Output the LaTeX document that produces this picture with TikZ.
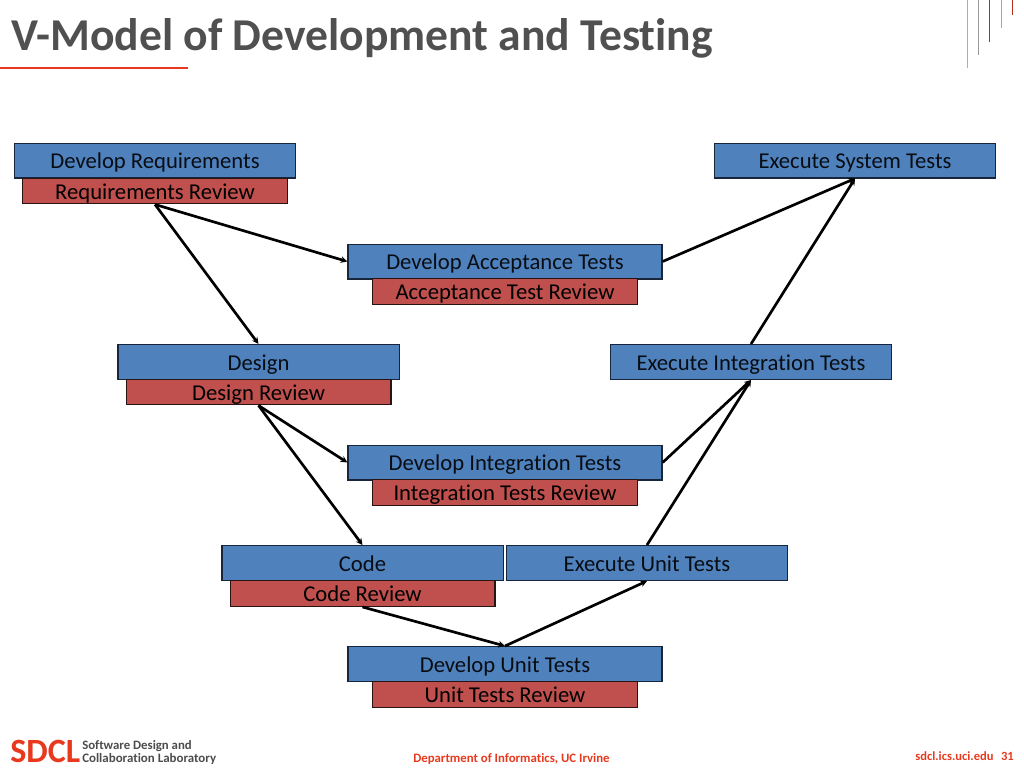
\documentclass[tikz,border=0pt]{standalone}
\usepackage{fontspec}
\setmainfont[RawFeature={-liga;-clig}]{Carlito}
\usetikzlibrary{arrows.meta}
\definecolor{bluefill}{HTML}{4F81BD}
\definecolor{redfill}{HTML}{C0504D}
\definecolor{edgeblue}{HTML}{17263A}
\definecolor{edgered}{HTML}{2A1413}
\definecolor{titlegrey}{HTML}{505050}
\definecolor{brandred}{HTML}{E8391E}
\tikzset{
  x=0.75pt,y=-0.75pt,
  boxbase/.style={draw,line width=1pt,inner sep=0pt,anchor=center,text height=13.3pt,text depth=1pt,font=\fontsize{17}{17}\selectfont},
  bluebox/.style={boxbase,fill=bluefill,draw=edgeblue,text=black!90!bluefill,minimum width=211pt,minimum height=26pt},
  widered/.style={boxbase,fill=redfill,draw=edgered,text=black,minimum width=198.5pt,minimum height=19.2pt},
  link/.style={line width=2pt,black,-{Stealth[length=5pt,width=5pt]}},
  tick/.style={line width=0.75pt},
  foot/.style={inner sep=0pt,text=brandred,font=\fontsize{9.6}{9.6}\selectfont\bfseries},
}
\begin{document}
\begin{tikzpicture}
\useasboundingbox (0,0) rectangle (1024,768);
% title
\node[anchor=base west,inner sep=0pt,text=titlegrey,font=\fontsize{34.2}{34.2}\selectfont\bfseries] (title) at (11,50) {V-Model of Development and Testing};
\draw[brandred,line width=1pt] (0,68) -- (188,68);
% corner ticks
\draw[tick,draw=brandred!55] (967,0) -- (967,68);
\draw[tick,draw=gray!80] (978.5,0) -- (978.5,55);
\draw[tick,draw=brandred!80!black] (989.5,0) -- (989.5,42);
\draw[tick,draw=gray!70] (1001,0) -- (1001,28);
\draw[tick,draw=brandred!80!black] (1012.5,0) -- (1012.5,15);
% boxes
\node[bluebox] (devreq) at (155,160.5) {Develop Requirements};
\node[widered] (reqrev) at (155,191) {Requirements Review};
\node[bluebox] (sys) at (855,160.5) {Execute System Tests};
\node[bluebox,minimum width=235.5pt] (devacc) at (505,261.5) {Develop Acceptance Tests};
\node[widered] (accrev) at (505,291.5) {Acceptance Test Review};
\node[bluebox] (design) at (258.5,362) {Design};
\node[widered] (desrev) at (258.5,392) {Design Review};
\node[bluebox] (intexec) at (751,362) {Execute Integration Tests};
\node[bluebox,minimum width=235.5pt] (devint) at (505,462.5) {Develop Integration Tests};
\node[widered] (intrev) at (505,492.5) {Integration Tests Review};
\node[bluebox] (code) at (362.5,563) {Code};
\node[widered] (coderev) at (362.5,593.5) {Code Review};
\node[bluebox] (unitexec) at (647,563) {Execute Unit Tests};
\node[bluebox,minimum width=235.5pt] (devunit) at (505,664) {Develop Unit Tests};
\node[widered] (unitrev) at (505,694.5) {Unit Tests Review};
% connectors
\draw[link] (reqrev.south) -- (design.north);
\draw[link] (reqrev.south) -- (devacc.west);
\draw[link] (devacc.east) -- (sys.south);
\draw[link] (intexec.north) -- (sys.south);
\draw[link] (desrev.south) -- (devint.west);
\draw[link] (desrev.south) -- (code.north);
\draw[link] (devint.east) -- (intexec.south);
\draw[link] (unitexec.north) -- (intexec.south);
\draw[link] (coderev.south) -- (devunit.north);
\draw[link] (devunit.north) -- (unitexec.south);
% footer
\node[anchor=base west,inner sep=0pt,text depth=0pt,text=brandred,font=\fontsize{25.5}{25.5}\selectfont\bfseries] (sdcl) at (10,762) {SDCL};
\node[anchor=base west,inner sep=0pt,text=black!70,font=\fontsize{9.6}{9.6}\selectfont\bfseries] (sdcla) at (82,749) {Software Design and};
\node[anchor=base west,inner sep=0pt,text=black!70,font=\fontsize{9.7}{9.7}\selectfont\bfseries] (sdclb) at (82,762) {Collaboration Laboratory};
\node[foot,anchor=base west] (dept) at (413,762) {Department of Informatics, UC Irvine};
\node[foot,anchor=base east,font=\fontsize{9.4}{9.4}\selectfont\bfseries] (site) at (1014,760) {sdcl.ics.uci.edu\hspace{0.6em}31};
\end{tikzpicture}
\end{document}
